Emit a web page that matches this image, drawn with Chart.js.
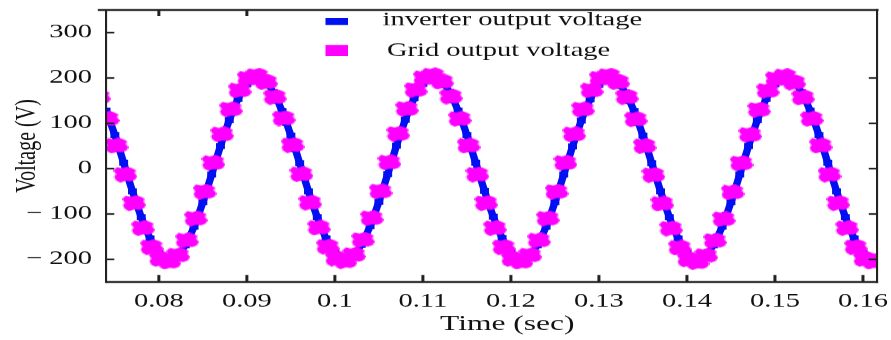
<!DOCTYPE html>
<html>
<head>
<meta charset="utf-8">
<script src="https://cdn.jsdelivr.net/npm/chart.js@4.4.1/dist/chart.umd.min.js"></script>
<style>
  html, body { margin: 0; padding: 0; background: #fff; overflow: hidden; }
  /* the figure is drawn narrow and widened, like the stretched original plot */
  #wrap { width: 594px; height: 340px; transform: scaleX(1.5); transform-origin: 0 0; }
</style>
</head>
<body>
<div id="wrap"><canvas id="myChart" width="594" height="340"></canvas></div>
<script>
// sample grid of the two measured signals (seconds)
var invStart = 0.074, invStep = 0.0005;
var gridStart = 0.0732, gridStep = 0.001;

// inverter output voltage (V), one value per 0.5 ms
var invVolts = [
  128, 102, 74, 44, 13, -19, -50, -79, -107, -132, -154, -172, -186, -195, -200, -199, -194, -184, -169, -150,
  -128, -102, -74, -44, -13, 19, 50, 79, 107, 132, 154, 172, 186, 195, 200, 199, 194, 184, 169, 150,
  127, 101, 73, 43, 12, -19, -50, -80, -107, -132, -154, -171, -185, -195, -199, -198, -193, -183, -168, -149,
  -127, -101, -73, -43, -12, 19, 51, 80, 108, 133, 155, 173, 187, 196, 201, 200, 195, 185, 170, 151,
  128, 102, 74, 44, 13, -18, -49, -79, -106, -131, -153, -171, -185, -194, -199, -199, -194, -184, -169, -150,
  -128, -102, -74, -44, -13, 18, 49, 78, 106, 131, 153, 171, 185, 194, 199, 198, 193, 183, 168, 149,
  127, 101, 73, 43, 12, -19, -50, -79, -107, -132, -154, -172, -186, -195, -200, -199, -194, -184, -169, -150,
  -128, -102, -74, -44, -13, 19, 50, 79, 107, 132, 154, 172, 186, 195, 200, 199, 194, 184, 169, 150,
  128, 102, 74, 44, 13, -19, -50, -79, -107, -132, -154, -172, -186, -195, -200, -199
];

// grid output voltage (V), one value per 1 ms
var gridVolts = [
  158,
  110, 51, -13, -76, -131, -173, -199, -205, -191, -158, -110, -51, 13, 76, 131, 173, 199, 205, 191, 158,
  111, 52, -12, -75, -130, -172, -198, -204, -190, -157, -109, -50, 14, 77, 132, 174, 200, 206, 192, 159,
  110, 51, -13, -76, -131, -173, -199, -205, -191, -158, -110, -51, 13, 76, 131, 173, 199, 205, 191, 158,
  109, 50, -14, -77, -132, -174, -200, -206, -192, -159, -111, -52, 12, 75, 130, 172, 198, 204, 190, 157,
  110, 51, -13, -76, -131, -173, -199, -205
];

var xTicks = [0.08, 0.09, 0.10, 0.11, 0.12, 0.13, 0.14, 0.15, 0.16];
var xTopTicks = [0.08, 0.09];
var yTicks = [-200, -100, 0, 100, 200, 300];
var yRightTicks = [-200, -100, 0, 100, 200];
var xMin = 0.074, xMax = 0.1616;
var yMin = -250, yMax = 350;

var seriesNames = ["inverter output voltage", "Grid output voltage"];
var seriesColors = ["#0010f0", "#ff00ff"];

function toPoints(start, step, vals) {
  var pts = [];
  for (var i = 0; i < vals.length; i++) {
    pts.push({x: +(start + i * step).toFixed(5), y: vals[i]});
  }
  return pts;
}

// rough square marker for the grid voltage
function makeBlob(color, size) {
  var c = document.createElement("canvas");
  c.width = size;
  c.height = size;
  var g = c.getContext("2d");
  var pts = [[2, 0.5], [5, 1.5], [8, 0], [11, 1.5], [13, 3], [12.5, 6], [14, 8.5], [12.5, 11.5],
             [10, 13], [7, 12.5], [4, 14], [1.5, 12], [0.5, 9], [1.5, 6.5], [0, 3.5]];
  var k = size / 14;
  g.fillStyle = color;
  g.beginPath();
  g.moveTo(pts[0][0] * k, pts[0][1] * k);
  for (var i = 1; i < pts.length; i++) g.lineTo(pts[i][0] * k, pts[i][1] * k);
  g.closePath();
  g.fill();
  return c;
}

Chart.defaults.font.family = '"Liberation Serif", "Times New Roman", serif';
Chart.defaults.color = "#111";

var axisColor = "#222";

// box round the plot with inward tick marks
var framePlugin = {
  id: "frame",
  afterDraw: function(chart) {
    var ctx = chart.ctx, a = chart.chartArea;
    var xs = chart.scales.x, ys = chart.scales.y;
    ctx.save();
    ctx.strokeStyle = axisColor;
    ctx.lineWidth = 2;
    ctx.beginPath();
    ctx.moveTo(a.left - 5.5, a.top);  // top rule runs a little past the left axis
    ctx.lineTo(a.right + 1, a.top);
    ctx.moveTo(a.left, a.bottom);
    ctx.lineTo(a.right + 0.7, a.bottom);
    xTicks.forEach(function(v) {
      var px = xs.getPixelForValue(v);
      ctx.moveTo(px, a.bottom);
      ctx.lineTo(px, a.bottom - 7);
    });
    xTopTicks.forEach(function(v) {
      var px = xs.getPixelForValue(v);
      ctx.moveTo(px, a.top);
      ctx.lineTo(px, a.top + 6);
    });
    ctx.stroke();
    ctx.lineWidth = 1.4;
    ctx.beginPath();
    ctx.moveTo(a.left, a.top);
    ctx.lineTo(a.left, a.bottom + 1);
    ctx.moveTo(a.right, a.top - 1);
    ctx.lineTo(a.right, a.bottom + 1);
    ctx.stroke();
    ctx.lineWidth = 1.6;
    ctx.beginPath();
    yTicks.forEach(function(v) {
      var py = ys.getPixelForValue(v);
      ctx.moveTo(a.left, py);
      ctx.lineTo(a.left + 5.5, py);
    });
    yRightTicks.forEach(function(v) {
      var py = ys.getPixelForValue(v);
      ctx.moveTo(a.right, py);
      ctx.lineTo(a.right - 5.5, py);
    });
    ctx.stroke();
    ctx.restore();
  }
};

// legend drawn inside the plot, two rows
var legendPlugin = {
  id: "innerLegend",
  afterDraw: function(chart) {
    var ctx = chart.ctx;
    var ds = chart.data.datasets;
    ctx.save();
    ctx.font = '19px "Liberation Serif", serif';
    ctx.textBaseline = "alphabetic";
    ctx.fillStyle = ds[0].backgroundColor;
    ctx.fillRect(217, 18, 15, 7);
    ctx.fillStyle = "#111";
    ctx.fillText(ds[0].label, 255, 25);
    ctx.fillStyle = ds[1].backgroundColor;
    ctx.fillRect(217, 45, 15, 11);
    ctx.fillStyle = "#111";
    ctx.fillText(ds[1].label, 258, 56);
    ctx.restore();
  }
};

function fixTicks(list) {
  return function(scale) {
    scale.ticks = list.map(function(v) { return {value: v}; });
  };
}

var myChart = new Chart(document.getElementById("myChart"), {
  type: "scatter",
  data: {
    datasets: [{
      label: seriesNames[0],
      data: toPoints(invStart, invStep, invVolts),
      backgroundColor: seriesColors[0],
      borderColor: seriesColors[0],
      showLine: true,
      borderWidth: 5,
      pointStyle: "rect",
      pointRadius: 4.2,
      pointHoverRadius: 4.2,
      pointBorderWidth: 0,
      clip: 0,
      order: 2
    }, {
      label: seriesNames[1],
      data: toPoints(gridStart, gridStep, gridVolts),
      backgroundColor: seriesColors[1],
      borderColor: seriesColors[1],
      pointStyle: makeBlob(seriesColors[1], 16),
      pointRadius: 8,
      pointHoverRadius: 8,
      pointBorderWidth: 0,
      borderWidth: 0,
      clip: 0,
      order: 1
    }]
  },
  options: {
    responsive: false,
    devicePixelRatio: 1.5,
    animation: false,
    events: [],
    layout: { padding: { top: 10, right: 9.3, left: 0, bottom: 0 }, autoPadding: false },
    plugins: {
      legend: { display: false },
      tooltip: { enabled: false }
    },
    scales: {
      x: {
        type: "linear",
        position: "bottom",
        min: xMin,
        max: xMax,
        afterBuildTicks: fixTicks(xTicks),
        afterFit: function(scale) {
          scale.height = 58;
          scale.paddingLeft = 0;
          scale.paddingRight = 0;
        },
        ticks: {
          padding: 8,
          font: { size: 19 },
          color: "#111",
          callback: function(v) { return String(+v.toFixed(2)); }
        },
        grid: { display: false, drawTicks: false },
        border: { display: false },
        title: {
          display: true,
          text: "    Time (sec)",
          font: { size: 21 },
          color: "#111",
          padding: { top: 0, bottom: 3 }
        }
      },
      y: {
        type: "linear",
        position: "left",
        min: yMin,
        max: yMax,
        afterBuildTicks: fixTicks(yTicks),
        afterFit: function(scale) {
          scale.width = 70.7;
          scale.paddingTop = 0;
          scale.paddingBottom = 0;
        },
        ticks: {
          padding: 9.4,
          font: { size: 19 },
          color: "#111",
          callback: function(v) { return v < 0 ? "\u2212 " + Math.abs(v) : String(v); }
        },
        grid: { display: false, drawTicks: false },
        border: { display: false },
        title: {
          display: true,
          text: "Voltage (V)",
          font: { size: 20 },
          color: "#111",
          padding: { top: 6, bottom: 0 }
        }
      }
    }
  },
  plugins: [framePlugin, legendPlugin]
});
</script>
</body>
</html>
